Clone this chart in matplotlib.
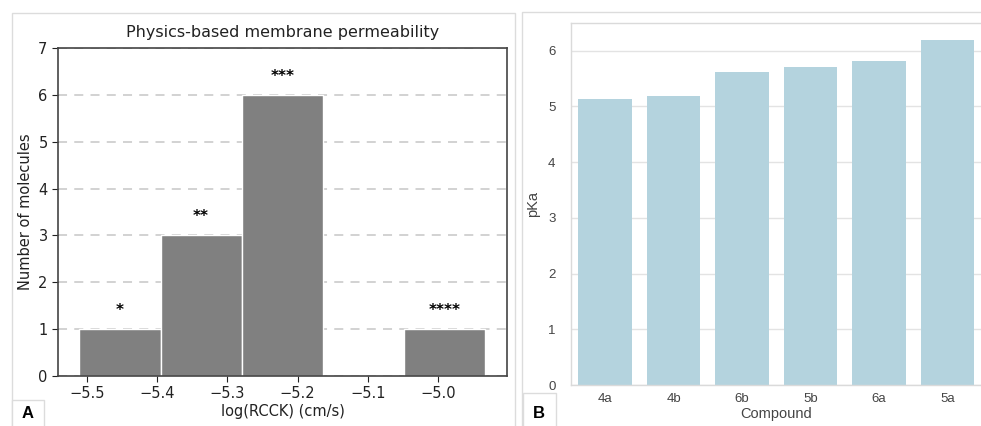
import matplotlib
matplotlib.use("Agg")
import matplotlib.pyplot as plt
from matplotlib.patches import Rectangle

# ---- Data ----
bin_edges = [-5.5105, -5.395, -5.2795, -5.164, -5.0485, -4.933]
counts = [1, 3, 6, 0, 1]
stars = ["*", "**", "***", "", "****"]

compounds = ["4a", "4b", "6b", "5b", "6a", "5a"]
pka = [5.13, 5.18, 5.61, 5.71, 5.81, 6.19]

W, H = 981, 426
fig = plt.figure(figsize=(W / 100, H / 100), dpi=100)

def fr(x0, y0, x1, y1):
    return [x0 / W, (H - y1) / H, (x1 - x0) / W, (y1 - y0) / H]

# panel frames
for (x0, y0, x1, y1) in [(12, 13, 515, 432), (522, 12, 990, 432)]:
    fig.patches.append(Rectangle((x0 / W, (H - y1) / H), (x1 - x0) / W, (y1 - y0) / H,
                                 transform=fig.transFigure, fill=False,
                                 edgecolor="#dcdcdc", lw=1.0))
# letter boxes
for (x0, y0, x1, y1, lab) in [(12, 400, 44, 432, "A"), (523, 393, 556, 432, "B")]:
    fig.patches.append(Rectangle((x0 / W, (H - y1) / H), (x1 - x0) / W, (y1 - y0) / H,
                                 transform=fig.transFigure, fill=True, facecolor="white",
                                 edgecolor="#dcdcdc", lw=1.0))
    fig.text((x0 + 16) / W, (H - 413) / H, lab, ha="center", va="center",
             fontsize=12, fontweight="bold", family="Liberation Sans", color="black")

# ---- Panel A ----
ax = fig.add_axes(fr(58, 48, 507, 376))
lefts = bin_edges[:-1]
widths = [bin_edges[i + 1] - bin_edges[i] for i in range(len(counts))]
ax.bar(lefts, counts, width=widths, align="edge", color="gray",
       edgecolor="white", linewidth=1.0, zorder=2)
for l, w, c, s in zip(lefts, widths, counts, stars):
    if s:
        ax.text(l + w / 2, c + 0.4, s, ha="center", va="center",
                fontsize=11, fontweight="bold", color="black")
ax.set_ylim(0, 7)
ax.set_xlim(-5.541, -4.902)
ax.set_xticks([-5.5, -5.4, -5.3, -5.2, -5.1, -5.0])
ax.set_xticklabels(["\u22125.5", "\u22125.4", "\u22125.3", "\u22125.2", "\u22125.1", "\u22125.0"])
ax.set_yticks(range(8))
ax.yaxis.grid(True, linestyle=(0, (5, 4)), color="#cfcfcf", lw=1.3, zorder=0)
ax.set_axisbelow(True)
for sp in ax.spines.values():
    sp.set_color("#444444")
    sp.set_linewidth(1.2)
ax.tick_params(labelsize=10.5, colors="#222222", length=4)
ax.set_xlabel("log(RCCK) (cm/s)", fontsize=10.5, color="#222222", labelpad=2)
ax.set_ylabel("Number of molecules", fontsize=10.5, color="#222222")
ax.set_title("Physics-based membrane permeability", fontsize=11.5, color="#222222", pad=8)

# ---- Panel B ----
bx = fig.add_axes(fr(570.7, 22.7, 982, 385))
x = list(range(len(compounds)))
bx.bar(x, pka, width=0.78, color="#b4d3de", zorder=2)
bx.set_xlim(-0.5, len(compounds) - 0.5)
bx.set_ylim(0, 6.5)
bx.set_xticks(x)
bx.set_xticklabels(compounds)
bx.set_yticks(range(7))
bx.yaxis.grid(True, color="#e3e3e3", lw=1.0, zorder=0)
bx.set_axisbelow(True)
for sp in bx.spines.values():
    sp.set_color("#dadada")
    sp.set_linewidth(1.0)
bx.tick_params(length=0, labelsize=9.5, colors="#444444")
bx.tick_params(axis="y", pad=11)
bx.tick_params(axis="x", pad=6)
for t in bx.get_xticklabels() + bx.get_yticklabels():
    t.set_family("Liberation Sans")
bx.set_xlabel("Compound", fontsize=10.5, color="#444444", family="Liberation Sans", labelpad=1)
bx.set_ylabel("pKa", fontsize=10.5, color="#444444", family="Liberation Sans", labelpad=6)

fig.savefig("out.png", dpi=100)
